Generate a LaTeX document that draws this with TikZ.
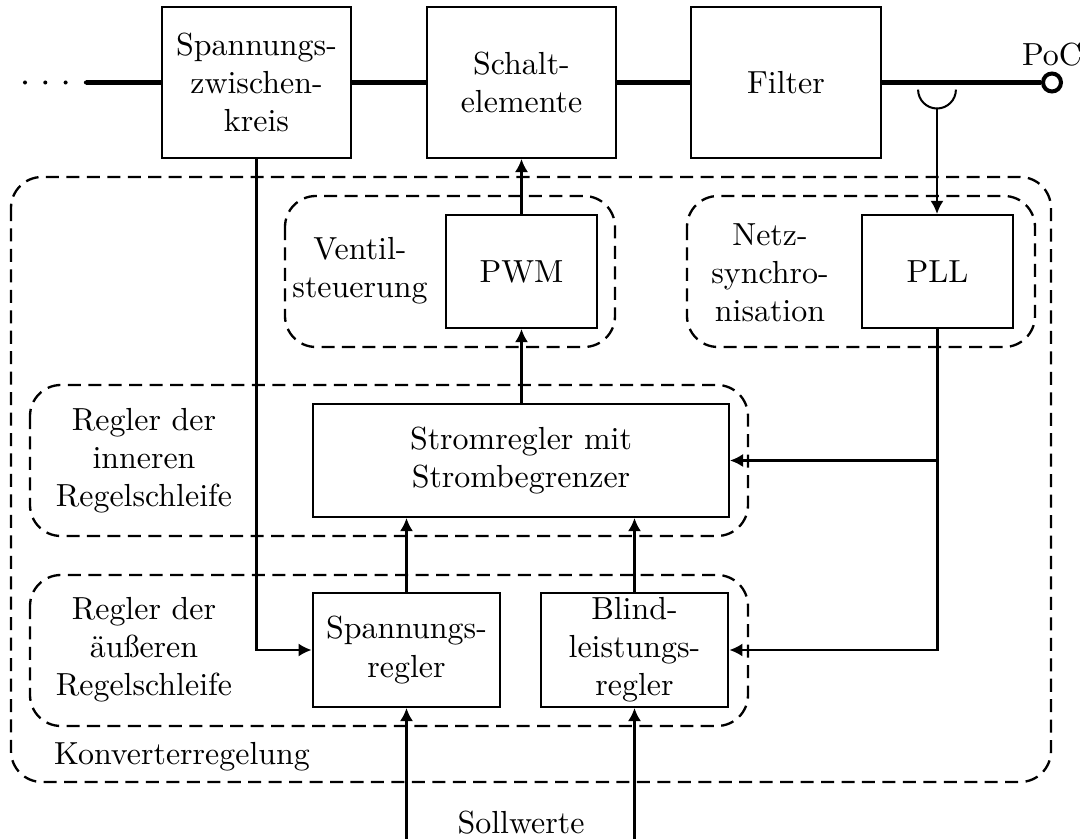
\documentclass[tikz,border=0pt]{standalone}
\usepackage{tikz}
\usetikzlibrary{positioning,arrows.meta}

\begin{document}
\begin{tikzpicture}[x=0.3226pt, y=-0.3226pt, line width=0.65pt,
    every node/.style={font=\fontsize{10.3pt}{12.3pt}\selectfont},
    block/.style={draw, align=center, minimum width=61pt, minimum height=48.7pt},
    smallblock/.style={draw, align=center, minimum width=48.7pt, minimum height=36.5pt},
    reglerblock/.style={draw, align=center, inner ysep=0pt, minimum width=60.6pt, minimum height=36.8pt},
    group/.style={line width=0.75pt, dash pattern=on 4.2pt off 2.4pt, rounded corners=10pt},
    bus/.style={line width=1.3pt},
    arr/.style={-{Latex[length=4.2pt,width=4.2pt]}},
    lbl/.style={align=center}]

    \useasboundingbox (0,0) rectangle (1086,839);

    % Groups
    \draw[group] (11,177) rectangle (1051,782);
    \draw[group] (285,196) rectangle (615,347);
    \draw[group] (687,196) rectangle (1035,347);
    \draw[group] (30,385) rectangle (748,536);
    \draw[group] (30,575) rectangle (748,726);

    % Power path
    \node[block] (zk) at (256.5,82.5) {Spannungs-\\zwischen-\\kreis};
    \node[block] (sw) at (521.5,82.5) {Schalt-\\elemente};
    \node[block] (filter) at (786,82.5) {Filter};
    \node[circle, draw, bus, fill=white, inner sep=0pt, minimum size=5.8pt] (poc) at (1052,82.5) {};
    \node (poclbl) at (1052,55) {PoC};
    \coordinate (dotstart) at (25,82.5);
    \coordinate (busstart) at (86,82.5);
    \draw[bus, line cap=round, dash pattern=on 0pt off 6.55pt] (dotstart) -- (busstart);
    \draw[bus] (busstart) -- (zk.west);
    \draw[bus] (zk.east) -- (sw.west);
    \draw[bus] (sw.east) -- (filter.west);
    \draw[bus] (filter.east) -- (poc.west);

    % Control blocks
    \node[smallblock] (pwm) at (521.5,271.5) {PWM};
    \node[smallblock] (pll) at (937.5,271.5) {PLL};
    \node[draw, align=center, minimum width=134.2pt, minimum height=36.5pt] (strom) at (521,460.5) {Stromregler mit\\Strombegrenzer};
    \node[reglerblock] (spr) at (406.5,650) {Spannungs-\\regler};
    \node[reglerblock] (bsr) at (634.5,650) {Blind-\\leistungs-\\regler};

    % Labels
    \node[lbl] (ventil) at (360,271) {Ventil-\\steuerung};
    \node[lbl] (netz) at (770,273) {Netz-\\synchro-\\nisation};
    \node[lbl] (innen) at (144,461) {Regler der\\inneren\\Regelschleife};
    \node[lbl] (aussen) at (144,650) {Regler der\\äußeren\\Regelschleife};
    \node (konv) at (182,757) {Konverterregelung};
    \node (soll) at (521,823) {Sollwerte};

    % Measurement
    \coordinate (sensor) at (937,108.5);
    \draw (sensor) arc[start angle=270, end angle=180, radius=6.1pt];
    \draw (sensor) arc[start angle=270, end angle=360, radius=6.1pt];
    \draw[arr] (sensor) -- (sensor |- pll.north);

    % Signals
    \draw[arr] (pwm.north) -- (sw.south);
    \draw[arr] (pwm.south |- strom.north) -- (pwm.south);
    \draw[arr] (spr.north) -- (spr.north |- strom.south);
    \draw[arr] (bsr.north) -- (bsr.north |- strom.south);
    \draw[arr] (zk.south) |- (spr.west);
    \draw[arr] (pll.south) |- (bsr.east);
    \draw[arr] (pll.south |- strom.east) -- (strom.east);

    % Setpoints
    \coordinate (bottom) at (0,839);
    \foreach \b in {spr,bsr}
        \draw[arr] (\b.south |- bottom) -- (\b.south);
\end{tikzpicture}
\end{document}
